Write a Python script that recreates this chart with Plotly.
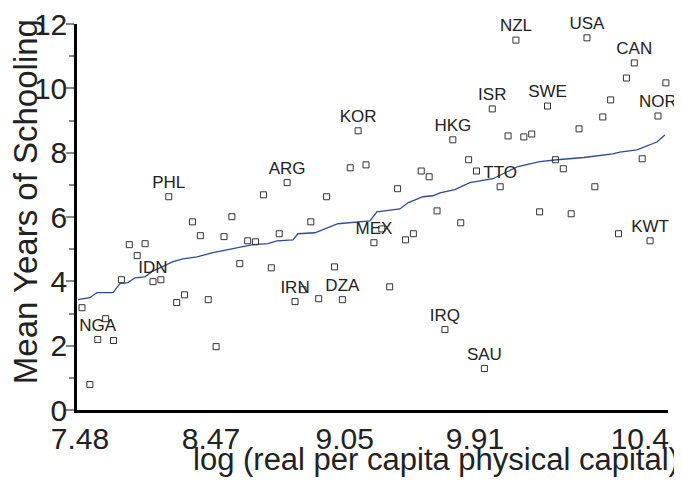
import plotly.graph_objects as go

# x = rank of country by log real per capita physical capital (1..75)
rank = list(range(1, 76))
schooling = [3.18, 0.79, 2.19, 2.84, 2.16, 4.05, 5.14, 4.80, 5.17, 3.99,
             4.05, 6.63, 3.34, 3.58, 5.85, 5.42, 3.43, 1.97, 5.39, 6.01,
             4.55, 5.26, 5.23, 6.69, 4.42, 5.48, 7.07, 3.37, 3.74, 5.85,
             3.46, 6.63, 4.45, 3.43, 7.53, 8.68, 7.62, 5.20, 5.63, 3.83,
             6.88, 5.29, 5.48, 7.43, 7.25, 6.19, 2.50, 8.40, 5.82, 7.78,
             7.43, 1.29, 9.36, 6.94, 8.52, 11.50, 8.49, 8.58, 6.16, 9.45,
             7.78, 7.50, 6.10, 8.74, 11.57, 6.94, 9.11, 9.64, 5.48, 10.32,
             10.79, 7.81, 5.26, 9.14, 10.17]
labels = [""] * 75
named = {3: "NGA", 10: "IDN", 12: "PHL", 27: "ARG", 28: "IRN", 34: "DZA",
         36: "KOR", 38: "MEX", 47: "IRQ", 48: "HKG", 52: "SAU", 53: "ISR",
         54: "TTO", 56: "NZL", 60: "SWE", 65: "USA", 71: "CAN", 73: "KWT",
         74: "NOR"}
for r, name in named.items():
    labels[r - 1] = name

# smoothed fit line
fit_x = [0.49, 2.01, 2.90, 4.93, 5.81, 6.83, 7.72, 8.98, 9.87, 12.53, 13.80,
         15.57, 17.60, 18.74, 20.64, 22.67, 24.57, 25.71, 27.74, 28.37, 30.52,
         31.16, 33.44, 37.49, 38.38, 41.29, 42.31, 44.21, 45.48, 46.36, 48.26,
         50.16, 53.08, 56.25, 59.03, 61.19, 64.6, 68.28, 69.17, 71.33, 73.86,
         74.88]
fit_y = [3.43, 3.49, 3.65, 3.65, 3.93, 3.96, 4.11, 4.14, 4.30, 4.61, 4.70,
         4.76, 4.89, 4.95, 5.04, 5.14, 5.17, 5.26, 5.29, 5.48, 5.51, 5.57,
         5.79, 5.88, 6.16, 6.25, 6.44, 6.63, 6.66, 6.75, 6.85, 7.07, 7.19,
         7.57, 7.72, 7.78, 7.85, 7.96, 8.02, 8.09, 8.33, 8.55]

tick_pos = [0.75, 17.35, 34.3, 50.8, 71.7]
tick_text = ["7.48", "8.47", "9.05", "9.91", "10.4"]

big_font = "Liberation Sans, Arial, sans-serif"

fig = go.Figure()
fig.add_trace(go.Scatter(x=fit_x, y=fit_y, mode="lines",
                         line=dict(color="#2b4c9b", width=1.3),
                         hoverinfo="skip", showlegend=False))
fig.add_trace(go.Scatter(x=rank, y=schooling, mode="markers+text",
                         text=labels, textposition="top center",
                         textfont=dict(family="Liberation Sans, Arial", size=17,
                                       color="#222222"),
                         marker=dict(symbol="square-open", size=6,
                                     color="#333333", line=dict(width=1)),
                         cliponaxis=False, showlegend=False))

fig.update_layout(
    width=682, height=489,
    margin=dict(l=69, r=22, t=16, b=87),
    paper_bgcolor="white", plot_bgcolor="white",
    font=dict(family=big_font, size=30, color="#222222"),
    xaxis=dict(range=[0.37, 75.27], showgrid=False, zeroline=False,
               showline=True, linecolor="black", linewidth=2.5,
               tickmode="array", tickvals=tick_pos, ticktext=tick_text,
               ticks="", tickfont=dict(size=30), automargin=False,
               ticklabeloverflow="allow"),
    yaxis=dict(range=[0, 12], showgrid=False, zeroline=False,
               showline=True, linecolor="black", linewidth=2.5,
               tickmode="linear", tick0=0, dtick=2,
               ticks="outside", ticklen=8, tickwidth=2, tickcolor="#888888",
               tickfont=dict(size=30), automargin=False,
               ticklabelstandoff=-7, ticklabeloverflow="allow",
               minor=dict(ticks="outside", ticklen=5, tickwidth=2,
                          tickcolor="#888888", dtick=1, tick0=0)),
    annotations=[
        dict(text="log (real per capita physical capital)", xref="paper",
             yref="paper", x=1.022, y=-0.128, xanchor="right",
             yanchor="middle", showarrow=False, font=dict(size=31)),
        dict(text="Mean Years of Schooling", xref="paper", yref="paper",
             x=-0.088, y=0.541, xanchor="center", yanchor="middle",
             textangle=-90, showarrow=False, font=dict(size=33)),
    ],
)

fig.write_html("out.html")
